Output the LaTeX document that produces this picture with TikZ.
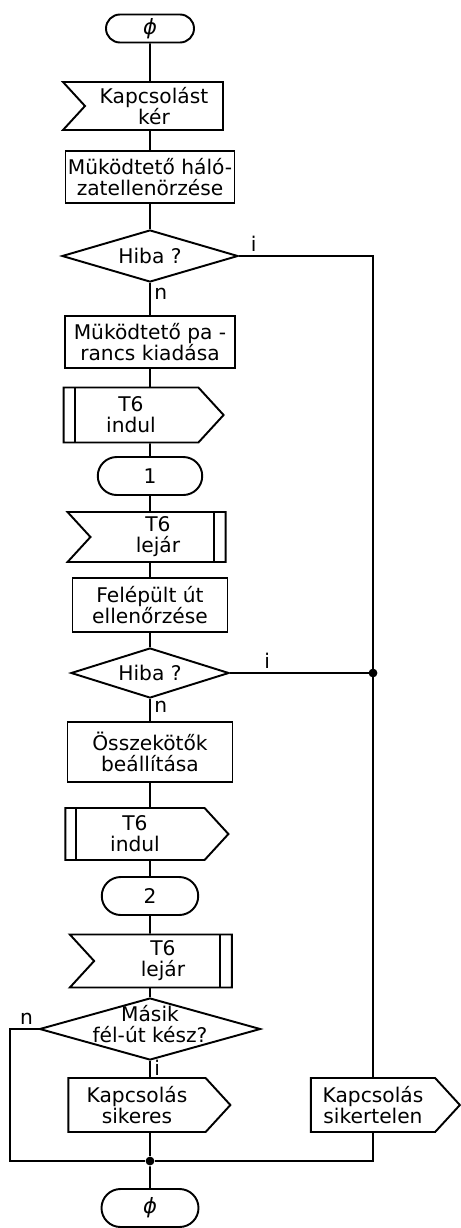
\documentclass[tikz,border=0pt]{standalone}
\usepackage{fontspec}
\setmainfont{DejaVu Sans}
\usepackage{tikz}
\usetikzlibrary{shapes.geometric}
\usetikzlibrary{shapes.misc}
\usetikzlibrary{shapes.symbols}
\usetikzlibrary{positioning}

\begin{document}
\begin{tikzpicture}[
    line width=1.1pt,
    every node/.style={font=\fontsize{11.5}{12}\selectfont, align=center, inner sep=1pt},
    term/.style={rounded rectangle, draw, minimum width=#1, minimum height=0.76cm},
    proc/.style={rectangle, draw, minimum width=#1, minimum height=1.04cm},
    test/.style={diamond, draw, aspect=3.4, inner sep=0pt},
    recv/.style={signal, draw, signal from=west, signal to=nowhere, signal pointer angle=95},
    send/.style={signal, draw, signal to=east, signal pointer angle=95},
    leftbar/.style={path picture={\draw ([xshift=0.22cm]path picture bounding box.north west) -- ([xshift=0.22cm]path picture bounding box.south west);}},
    rightbar/.style={path picture={\draw ([xshift=-0.24cm]path picture bounding box.north east) -- ([xshift=-0.24cm]path picture bounding box.south east);}},
    flag/.style={draw=none, inner sep=2pt},
    dot/.style={circle, fill, inner sep=0pt, minimum size=5pt},
    zero/.style={inner sep=0pt, font=\fontsize{12}{12}\selectfont\itshape},
  ]
  \useasboundingbox (0,0) rectangle (9.22,-24.56);

  % Main column
  \node[term=1.76cm, minimum height=0.56cm, zero] (start) at (3,-0.57) {ϕ};
  \node[recv, minimum width=3.2cm, minimum height=0.96cm] (req) at (3.08,-2.12) {Kapcsolást\\kér};
  \node[proc=3.38cm] (chk) at (3,-3.54) {Müködtető háló-\\zatellenörzése};
  \node[test, minimum width=3.52cm, minimum height=1.04cm] (err1) at (3,-5.12) {Hiba ?};
  \node[proc=3.4cm] (cmd) at (3,-6.84) {Müködtető pa -\\rancs kiadása};
  \node[send, leftbar, minimum width=3.2cm, minimum height=1.1cm] (t6a) at (2.62,-8.3) {T6\\indul};
  \node[term=2.16cm] (c1) at (3,-9.52) {1};
  \node[recv, rightbar, minimum width=3.16cm, minimum height=1cm] (t6b) at (3.16,-10.74) {T6\\lejár};
  \node[proc=3.1cm, minimum height=1.08cm] (ver) at (3,-12.1) {Felépült út\\ellenőrzése};
  \node[test, minimum width=3.16cm, minimum height=1cm] (err2) at (3,-13.46) {Hiba ?};
  \node[proc=3.3cm, minimum height=1.2cm] (set) at (3,-15.04) {Összekötők\\beállítása};
  \node[send, leftbar, minimum width=3.26cm, minimum height=1.04cm] (t6c) at (2.7,-16.68) {T6\\indul};
  \node[term=2cm] (c2) at (3,-17.92) {2};
  \node[recv, rightbar, minimum width=3.24cm, minimum height=1.06cm] (t6d) at (3.26,-19.22) {T6\\lejár};
  \node[test, minimum width=4.42cm, minimum height=1.24cm, label={[yshift=0.1cm]center:Másik\\fél-út kész?}] (sw) at (3,-20.58) {};
  \node[send, minimum width=3.24cm, minimum height=1.08cm] (ok) at (2.74,-22.1) {Kapcsolás\\sikeres};
  \node[term=1.94cm, zero] (end) at (3,-24.16) {ϕ};

  % Right column
  \node[send, minimum width=2.98cm, minimum height=1.08cm] (fail) at (7.46,-22.1) {Kapcsolás\\sikertelen};

  \node[dot] (j2) at (3,-23.22) {};
  \coordinate (lc) at (0.2,0);

  % Main flow
  \draw (start) -- (start |- req.north);
  \draw (chk |- req.south) -- (chk);
  \draw (chk) -- (err1);
  \draw (err1) -- node[flag, right, pos=0.35] {n} (cmd);
  \draw (cmd) -- (cmd |- t6a.north);
  \draw (c1 |- t6a.south) -- (c1);
  \draw (c1) -- (c1 |- t6b.north);
  \draw (ver |- t6b.south) -- (ver);
  \draw (ver) -- (err2);
  \draw (err2) -- node[flag, right, pos=0.35] {n} (set);
  \draw (set) -- (set |- t6c.north);
  \draw (c2 |- t6c.south) -- (c2);
  \draw (c2) -- (c2 |- t6d.north);
  \draw (sw |- t6d.south) -- (sw);
  \draw (sw) -- node[flag, right, pos=0.4] {i} (sw |- ok.north);
  \draw (sw |- ok.south) -- (j2);
  \draw (j2) -- (end);

  % Error branch
  \draw (err1.east) -- node[flag, above, pos=0.11] {i} (err1.east -| fail.north) -- (fail.north);
  \draw (err2.east) -- node[flag, above, pos=0.26] {i} (err2.east -| fail.north) node[dot] (j1) {};
  \draw (fail.south) |- (j2);

  % Loop back
  \draw (sw.west) -- node[flag, above, pos=0.42] {n} (sw.west -| lc) |- (j2);

\end{tikzpicture}
\end{document}
